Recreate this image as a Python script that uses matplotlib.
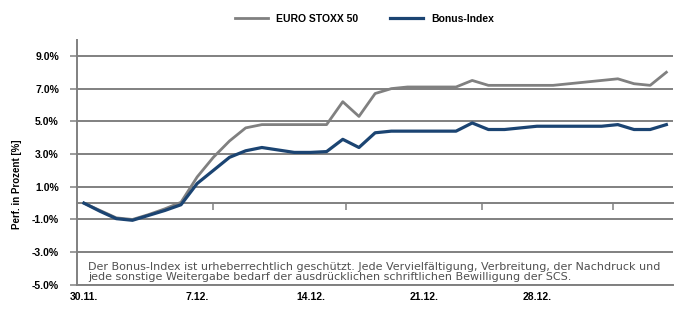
import matplotlib as mpl
import matplotlib.pyplot as plt
import numpy as np

mpl.rcParams['font.family'] = ['Liberation Sans', 'DejaVu Sans']

# days since 30.11.
days = np.arange(0, 37)
bonus = [0.0, -0.5, -0.95, -1.05, -0.75, -0.45, -0.1, 1.2, 2.0, 2.8, 3.2, 3.4, 3.25,
         3.1, 3.1, 3.15, 3.9, 3.4, 4.3, 4.4, 4.4, 4.4, 4.4, 4.4, 4.9, 4.5, 4.5, 4.6,
         4.7, 4.7, 4.7, 4.7, 4.7, 4.8, 4.5, 4.5, 4.8]
stoxx = [0.0, -0.45, -0.9, -1.0, -0.7, -0.35, 0.05, 1.6, 2.8, 3.8, 4.6, 4.8, 4.8,
         4.8, 4.8, 4.8, 6.2, 5.3, 6.7, 7.0, 7.1, 7.1, 7.1, 7.1, 7.5, 7.2, 7.2, 7.2,
         7.2, 7.2, 7.3, 7.4, 7.5, 7.6, 7.3, 7.2, 8.0]

date_pos = [0, 7, 14, 21, 28]
date_labels = ['30.11.', '7.12.', '14.12.', '21.12.', '28.12.']
axis_ticks = [8.0, 16.2, 24.6, 32.7]
yvals = [-5, -3, -1, 1, 3, 5, 7, 9]
ylabels = ['-5.0%', '-3.0%', '-1.0%', '1.0%', '3.0%', '5.0%', '7.0%', '9.0%']

grey = '#808080'
blue = '#1b4472'

fig = plt.figure(figsize=(6.81, 3.09), dpi=100)
ax = fig.add_axes([0.113, 0.078, 0.875, 0.794])

ax.plot(days, stoxx, color=grey, lw=2.0, label='EURO STOXX 50', zorder=3)
ax.plot(days, bonus, color=blue, lw=2.3, label='Bonus-Index', zorder=4)

ax.set_xlim(-0.43, 36.4)
ax.set_ylim(-5, 10)
ax.set_yticks(yvals)
ax.set_yticklabels(ylabels, fontsize=7.5, fontweight='bold')
ax.set_xticks(date_pos)
ax.set_xticklabels(date_labels, fontsize=7.5, fontweight='bold')
ax.tick_params(axis='x', length=0, pad=5)
ax.tick_params(axis='y', length=5, width=1.1, color=grey, pad=8)
ax.grid(axis='y', color=grey, lw=1.4, zorder=1)

for s in ['top', 'right']:
    ax.spines[s].set_visible(False)
ax.spines['left'].set_color(grey)
ax.spines['left'].set_linewidth(1.4)
ax.spines['bottom'].set_color(grey)
ax.spines['bottom'].set_linewidth(1.4)

# zero axis with tick marks
zero = ax.secondary_xaxis(5 / 15)
zero.set_xticks(axis_ticks)
zero.set_xticklabels([])
zero.tick_params(axis='x', direction='out', length=5, width=1.1, color=grey)
zero.spines['bottom'].set_color(grey)
zero.spines['bottom'].set_linewidth(1.4)

ax.set_ylabel('Perf. in Prozent [%]', fontsize=7, fontweight='bold')
ax.yaxis.set_label_coords(-0.093, 0.41)

ax.text(0.25, -4.22,
        'Der Bonus-Index ist urheberrechtlich geschützt. Jede Vervielfältigung, Verbreitung, '
        'der Nachdruck und\njede sonstige Weitergabe bedarf der ausdrücklichen schriftlichen '
        'Bewilligung der SCS.',
        family='DejaVu Sans', fontsize=8.0, color='#505050', va='center', ha='left',
        linespacing=1.0)

fig.legend(loc='upper center', bbox_to_anchor=(0.535, 0.985), ncol=2, frameon=False,
           handlelength=3.2, columnspacing=3, prop={'weight': 'bold', 'size': 7.5})

fig.savefig('out.png', dpi=100)
